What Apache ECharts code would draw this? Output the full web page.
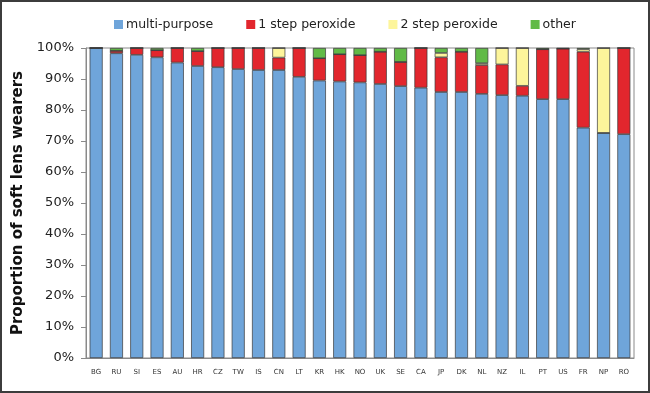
<!DOCTYPE html>
<html><head><meta charset="utf-8">
<script src="https://cdn.jsdelivr.net/npm/echarts@6/dist/echarts.min.js"></script>
<style>
html,body{margin:0;padding:0;background:#fff;}
#frame{width:650px;height:393px;box-sizing:border-box;border:2px solid #3c3c3c;position:relative;background:#fff;}
#chart{position:absolute;left:-2px;top:-2px;width:650px;height:393px;}
</style></head>
<body><div id="frame"><div id="chart"></div></div>
<script>
const categories = ['BG','RU','SI','ES','AU','HR','CZ','TW','IS','CN','LT','KR','HK','NO','UK','SE','CA','JP','DK','NL','NZ','IL','PT','US','FR','NP','RO'];
const multiPurpose = [100,98.3,97.8,97.0,95.3,94.2,93.8,93.2,92.9,92.9,90.7,89.5,89.2,88.9,88.4,87.7,87.2,85.8,85.8,85.2,84.8,84.6,83.5,83.5,74.3,72.6,72.2];
const oneStep =      [0,0.8,2.2,2.3,4.7,4.8,6.2,6.8,7.1,4.0,9.3,7.2,8.8,8.8,10.4,7.8,12.8,11.2,13.0,9.3,9.9,3.2,16.1,16.3,24.5,0,27.8];
const twoStep =      [0,0,0,0,0,0,0,0,0,3.1,0,0,0,0,0,0,0,1.4,0,0.6,5.3,12.2,0,0,0.8,27.4,0];
const other =        [0,0.9,0,0.7,0,1.0,0,0,0,0,0,3.3,2.0,2.3,1.2,4.5,0,1.6,1.2,4.9,0,0,0.4,0.2,0.4,0,0];
const yTicks = ['0%','10%','20%','30%','40%','50%','60%','70%','80%','90%','100%'];

const colors = ['#6FA5DA','#E2262D','#FDF59B','#61BA47'];
const names = ['multi-purpose','1 step peroxide','2 step peroxide','other'];
const datas = [multiPurpose, oneStep, twoStep, other];

const chart = echarts.init(document.getElementById('chart'));
chart.setOption({
  animation:false,
  textStyle:{fontFamily:'DejaVu Sans'},
  legend:{
    top:13, left:109, itemWidth:9, itemHeight:9, itemGap:33,
    icon:'rect',
    itemStyle:{borderWidth:0},
    textStyle:{fontSize:12.5, color:'#222', fontFamily:'DejaVu Sans', padding:[0,0,0,-2]},
    data:names
  },
  grid:{left:86, right:16, top:48, bottom:35, show:true, borderColor:'#8a8a8a', borderWidth:1, backgroundColor:'transparent'},
  xAxis:{
    type:'category', data:categories,
    axisLine:{lineStyle:{color:'#8a8a8a'}},
    axisTick:{show:false},
    axisLabel:{fontSize:7, color:'#333', margin:11, interval:0}
  },
  yAxis:{
    type:'value', min:0, max:100, interval:10,
    name:'Proportion of soft lens wearers', nameLocation:'middle', nameGap:57,
    nameTextStyle:{fontSize:15, fontWeight:'bold', color:'#111', fontFamily:'DejaVu Sans'},
    axisLine:{show:true, lineStyle:{color:'#8a8a8a'}},
    axisTick:{show:true, length:5, lineStyle:{color:'#8a8a8a'}},
    splitLine:{show:false},
    axisLabel:{fontSize:13, color:'#222', margin:12, formatter:(v)=>yTicks[Math.round(v/10)]}
  },
  series: names.map((n,i)=>({
    name:n, type:'bar', stack:'total', data:datas[i],
    barWidth:13,
    itemStyle:{color:colors[i], borderColor:'#3a3a3a', borderWidth:0.7}
  }))
});
</script></body></html>
